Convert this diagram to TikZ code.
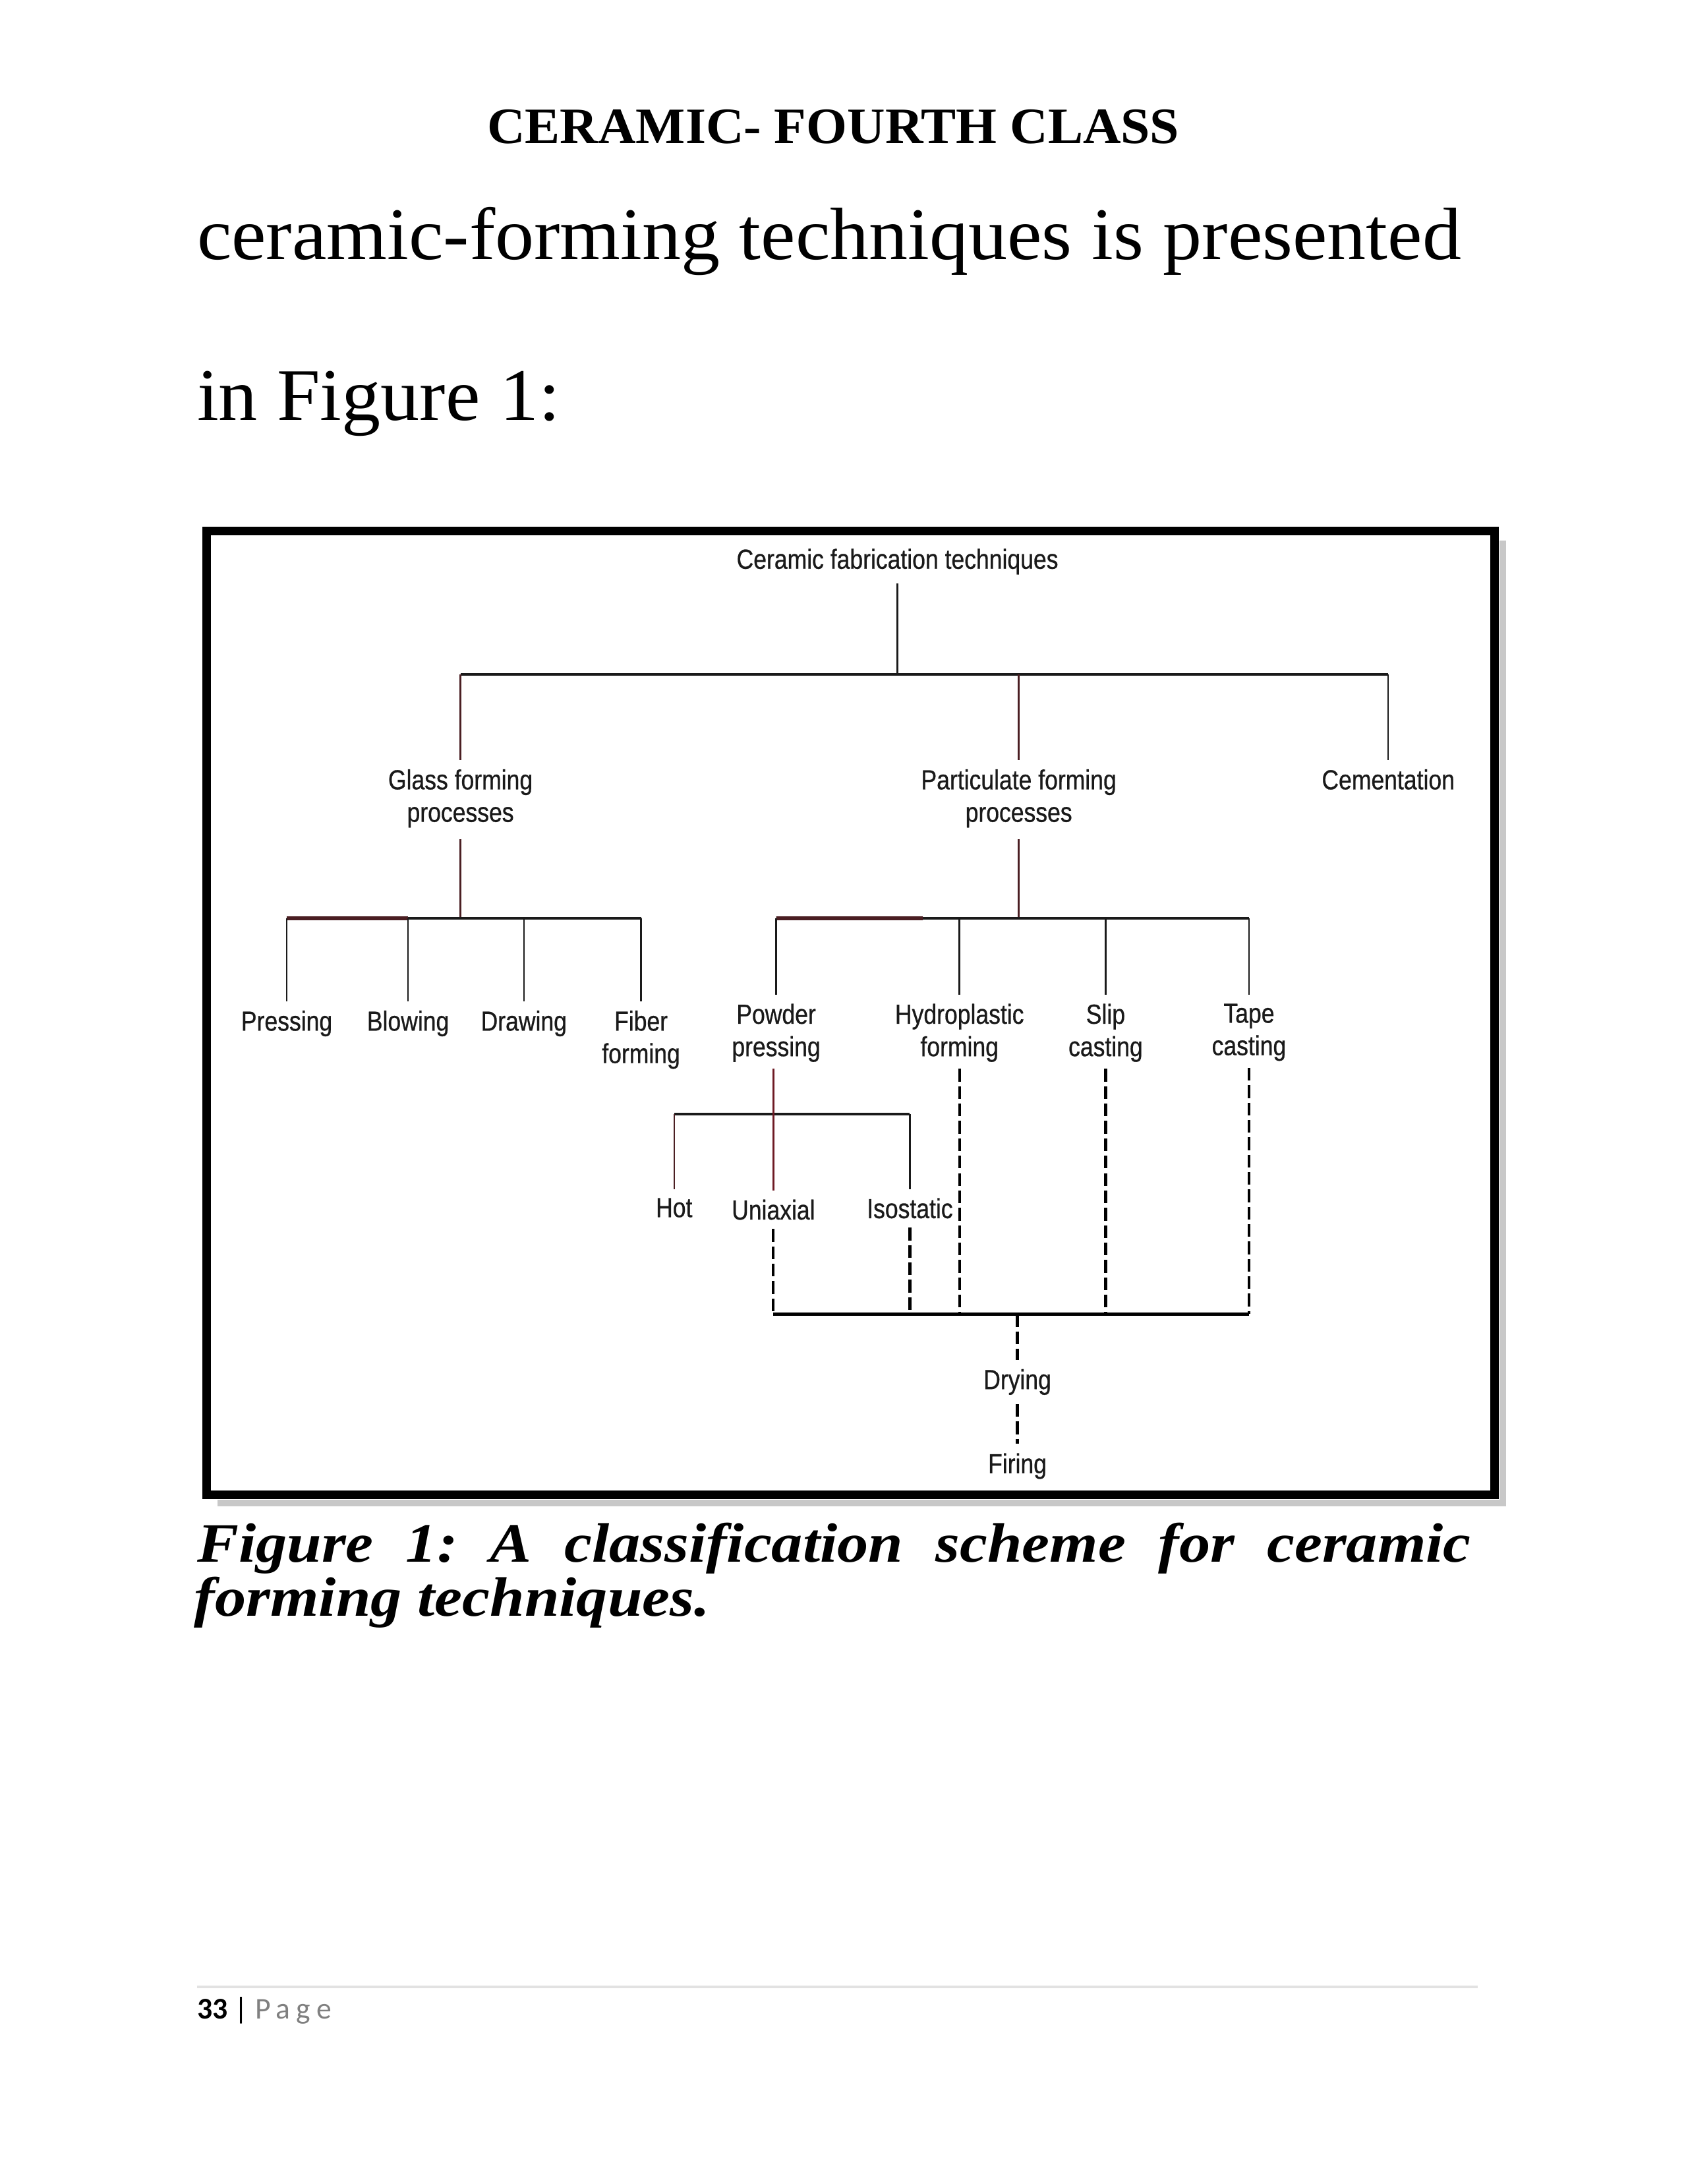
\documentclass[tikz,border=0pt]{standalone}
\usepackage{fontspec}
\setmainfont{Liberation Serif}
\newfontfamily\dfont[FakeStretch=0.85,FakeBold=0.6]{Liberation Sans}
\newfontfamily\bodyfont[FakeStretch=1.05]{Liberation Serif}
\newfontfamily\headfont[FakeStretch=1.03]{Liberation Serif}
\newfontfamily\capfont[FakeStretch=1.12]{Liberation Serif}
\newfontfamily\footfont{Carlito}
\newfontfamily\footspaced[LetterSpace=20]{Carlito}
\usetikzlibrary{calc}
\definecolor{ink}{HTML}{1A1A1A}
\definecolor{maroonln}{HTML}{4A1E22}
\definecolor{redline}{HTML}{6E1A24}
\definecolor{rulegray}{HTML}{E2E2E2}
\definecolor{pagegray}{HTML}{808080}
\begin{document}
\begin{tikzpicture}[x=0.020915cm,y=-0.020915cm,
  lbl/.style={font=\dfont\fontsize{11.9pt}{14pt}\selectfont, text=ink, inner sep=0pt, outer sep=0pt, align=center, anchor=north},
  conn/.style={draw=ink, line width=0.7pt},
  connr/.style={draw=maroonln, line width=0.7pt},
  hbar/.style={draw=ink, line width=1.0pt},
  hbarthick/.style={draw=black, line width=1.4pt},
  dashln/.style={draw=black, line width=1.2pt, dash pattern=on 5.5pt off 2pt},
  txt/.style={inner sep=0pt, outer sep=0pt, anchor=base west}
]
\useasboundingbox (0,0) rectangle (1224,1584);
\fill[white] (0,0) rectangle (1224,1584);

% page texts
\node[txt, anchor=base, font=\headfont\bfseries\fontsize{22pt}{26pt}\selectfont] (head) at (604.5,104) {CERAMIC- FOURTH CLASS};
\node[txt, font=\bodyfont\fontsize{32pt}{38pt}\selectfont] (body1) at (143,188) {ceramic-forming techniques is presented};
\node[txt, font=\bodyfont\fontsize{32pt}{38pt}\selectfont] (body2) at (143,305) {in Figure 1:};

% frame with shadow
\draw[line width=3pt, draw=black!30, opacity=0.7] (158,1090) -- (1090,1090) -- (1090,392);
\draw[line width=3.8pt, draw=black] (150,385) rectangle (1084,1084);

% labels
\node[lbl] (root) at (651,398) {Ceramic fabrication techniques};
\node[lbl] (glass) at (334,558) {Glass forming\\processes};
\node[lbl] (partic) at (739,558) {Particulate forming\\processes};
\node[lbl] (cement) at (1007,558) {Cementation};
\node[lbl] (press) at (208,733) {Pressing};
\node[lbl] (blow) at (296,733) {Blowing};
\node[lbl] (drawing) at (380,733) {Drawing};
\node[lbl] (fiber) at (465,733) {Fiber\\forming};
\node[lbl] (powder) at (563,728) {Powder\\pressing};
\node[lbl] (hydro) at (696,728) {Hydroplastic\\forming};
\node[lbl] (slip) at (802,728) {Slip\\casting};
\node[lbl] (tape) at (906,728) {Tape\\casting};
\node[lbl] (hot) at (489,869) {Hot};
\node[lbl] (uni) at (561,870) {Uniaxial};
\node[lbl] (iso) at (660,869) {Isostatic};
\node[lbl] (dry) at (738,993) {Drying};
\node[lbl] (fire) at (738,1054) {Firing};

% junctions
\coordinate (j1) at (651,489);
\coordinate (j2) at (334,666);
\coordinate (j3) at (738,666);
\coordinate (j4) at (561,808);
\coordinate (j5) at (738,953);

% level 1
\draw[conn, shorten <=4pt] (root.south) -- (j1);
\draw[hbar] (glass.north |- j1) -- (cement.north |- j1);
\draw[connr, shorten >=4pt] (glass.north |- j1) -- (glass.north);
\draw[connr, shorten >=4pt] (partic.north |- j1) -- (partic.north);
\draw[conn, shorten >=4pt] (cement.north |- j1) -- (cement.north);

% glass forming
\draw[connr, shorten <=5pt] (glass.south) -- (j2);
\draw[hbar] (press.north |- j2) -- (fiber.north |- j2);
\draw[line width=1.6pt, draw=maroonln] (press.north |- j2) -- (blow.north |- j2);
\foreach \n in {press,blow,drawing,fiber}
  \draw[conn, shorten >=4pt] (\n.north |- j2) -- (\n.north);

% particulate forming
\draw[connr, shorten <=5pt] (partic.south) -- (partic.south |- j3);
\draw[hbar] (powder.north |- j3) -- (tape.north |- j3);
\draw[line width=1.6pt, draw=maroonln] (powder.north |- j3) -- ($(powder.north |- j3)!0.8!(hydro.north |- j3)$);
\foreach \n in {powder,hydro,slip,tape}
  \draw[conn, shorten >=4pt] (\n.north |- j3) -- (\n.north);

% powder pressing
\draw[hbar] (hot.north |- j4) -- (iso.north |- j4);
\draw[draw=redline, line width=0.9pt, shorten <=3pt, shorten >=4pt] (uni.north |- powder.south) -- (uni.north);
\draw[connr, shorten >=4pt] (hot.north |- j4) -- (hot.north);
\draw[conn, shorten >=4pt] (iso.north |- j4) -- (iso.north);

% dashed to drying
\draw[dashln, shorten <=4pt] (uni.south) -- (uni.south |- j5);
\draw[dashln, shorten <=4pt] (iso.south) -- (iso.south |- j5);
\draw[dashln, shorten <=3pt] (hydro.south) -- (hydro.south |- j5);
\draw[dashln, shorten <=3pt] (slip.south) -- (slip.south |- j5);
\draw[dashln, shorten <=3pt] (tape.south) -- (tape.south |- j5);
\draw[hbarthick] (uni.south |- j5) -- (tape.south |- j5);
\draw[dashln, shorten >=4pt] (j5) -- (dry.north);
\draw[dashln, shorten <=4pt, shorten >=4pt] (dry.south) -- (fire.north);

% caption
\node[txt, font=\capfont\bfseries\itshape\fontsize{24pt}{28pt}\selectfont] (cap1) at (143,1133) {\hbox to 550pt{Figure\hfil 1:\hfil A\hfil classification\hfil scheme\hfil for\hfil ceramic}};
\node[txt, font=\capfont\bfseries\itshape\fontsize{24pt}{28pt}\selectfont] (cap2) at (141,1172) {forming techniques.};

% footer
\draw[draw=rulegray, line width=1.2pt] (143,1441) -- (1072,1441);
\node[txt, font=\footfont\fontsize{13pt}{15pt}\selectfont] (foot) at (143,1464) {\textbf{33} | {\color{pagegray}\footspaced Page}};
\end{tikzpicture}
\end{document}
